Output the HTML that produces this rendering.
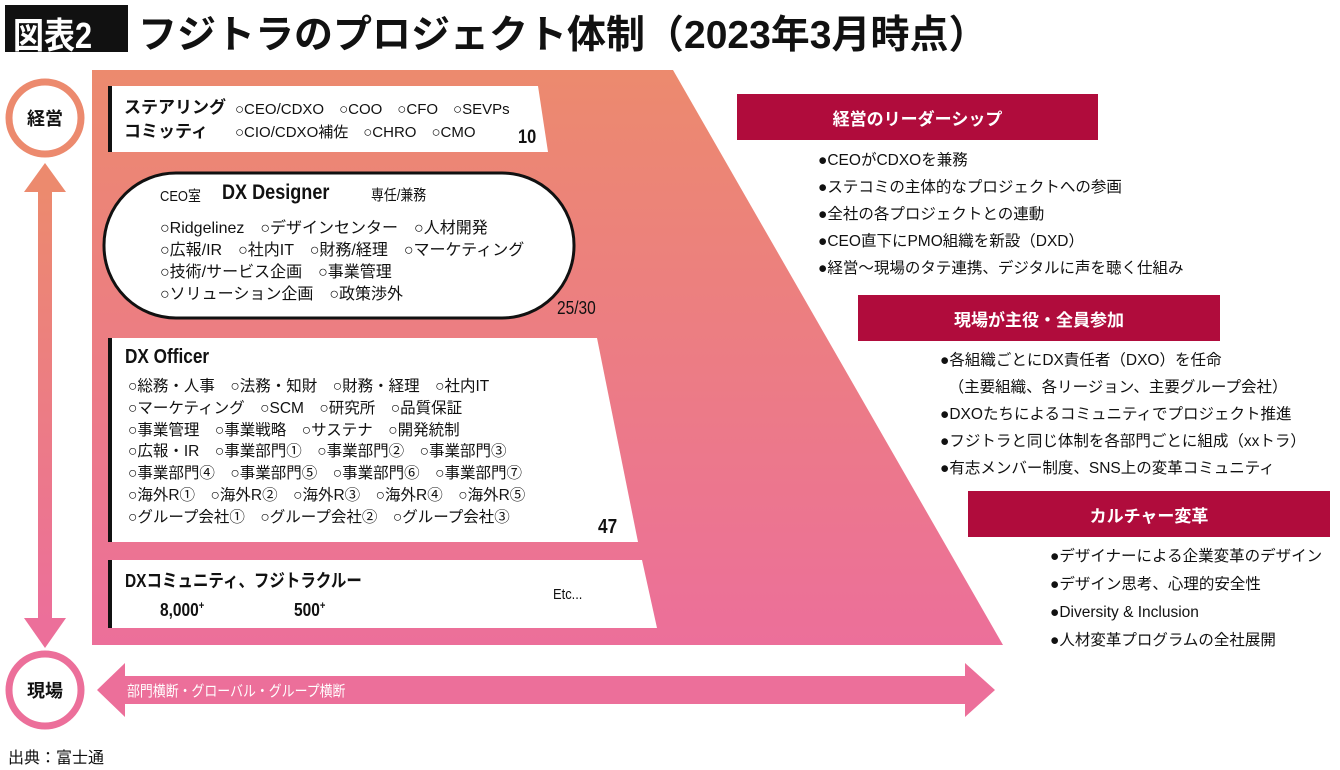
<!DOCTYPE html>
<html><head><meta charset="utf-8">
<style>
body{margin:0;width:1340px;height:770px;position:relative;background:#fff;overflow:hidden;font-family:"Liberation Sans","Noto Sans CJK JP",sans-serif;color:#111}
.a{position:absolute;white-space:nowrap;transform-origin:left top}
.n{transform:scaleX(.86)}
.hd{position:absolute;background:#b00c3c;color:#fff;font-size:17px;font-weight:bold;display:flex;align-items:center;justify-content:center}
.bl{font-size:15.5px;line-height:27px}
</style></head><body>
<svg width="1340" height="770" style="position:absolute;left:0;top:0">
<defs><linearGradient id="g" x1="0" y1="0" x2="0" y2="1"><stop offset="0" stop-color="#ec8a6e"/><stop offset="1" stop-color="#ec6f9a"/></linearGradient>
<linearGradient id="g2" x1="0" y1="0" x2="0" y2="1"><stop offset="0" stop-color="#ec8a6e"/><stop offset="1" stop-color="#ec6f9a"/></linearGradient></defs>
<polygon points="92,70 673,70 1003,645 92,645" fill="url(#g)"/>
<rect x="38" y="190" width="14" height="430" fill="url(#g2)"/>
<polygon points="24,192 45,163 66,192" fill="#ec8a6e"/>
<polygon points="24,618 45,648 66,618" fill="#ec6f9a"/>
<circle cx="45" cy="118" r="36" fill="#fff" stroke="#ec8a6e" stroke-width="7"/>
<circle cx="45" cy="690" r="36" fill="#fff" stroke="#ec6f9a" stroke-width="7"/>
<polygon points="97,690 125,663 125,676 965,676 965,663 995,690 965,717 965,704 125,704 125,717" fill="#ec6f9a"/>
<polygon points="108,86 538,86 548,152 108,152" fill="#fff"/>
<rect x="108" y="86" width="4" height="66" fill="#111"/>
<rect x="104" y="173" width="470" height="145" rx="72" fill="#fff" stroke="#111" stroke-width="3"/>
<polygon points="108,338 597,338 638,542 108,542" fill="#fff"/>
<rect x="108" y="338" width="4" height="204" fill="#111"/>
<polygon points="108,560 642,560 657,628 108,628" fill="#fff"/>
<rect x="108" y="560" width="4" height="68" fill="#111"/>
</svg>
<div class="a" style="left:5px;top:5px;width:123px;height:47px;background:#111"></div>
<div class="a n" style="left:13px;top:7px;font-size:36px;font-weight:bold;color:#fff">図表2</div>
<div class="a" style="left:138px;top:4px;font-size:39px;font-weight:bold">フジトラのプロジェクト体制（2023年3月時点）</div>
<div class="a" style="left:27px;top:105px;font-size:18px;font-weight:bold">経営</div>
<div class="a" style="left:27px;top:677px;font-size:18px;font-weight:bold">現場</div>
<div class="a n" style="left:127px;top:680px;font-size:15px;color:#fff">部門横断・グローバル・グループ横断</div>
<div class="a" style="left:8px;top:744px;font-size:16px">出典：富士通</div>

<div class="a" style="left:124px;top:96px;font-size:17px;font-weight:bold;line-height:24px">ステアリング<br>コミッティ</div>
<div class="a" style="left:235px;top:98px;font-size:15px;line-height:23px">○CEO/CDXO　○COO　○CFO　○SEVPs<br>○CIO/CDXO補佐　○CHRO　○CMO</div>
<div class="a n" style="left:518px;top:127px;font-size:19px;font-weight:bold">10</div>

<div class="a n" style="left:160px;top:185px;font-size:15px">CEO室</div>
<div class="a n" style="left:222px;top:181px;font-size:21px;font-weight:bold">DX Designer</div>
<div class="a n" style="left:371px;top:184px;font-size:15px">専任/兼務</div>
<div class="a" style="left:160px;top:218px;font-size:16px;line-height:22px">○Ridgelinez　○デザインセンター　○人材開発<br>○広報/IR　○社内IT　○財務/経理　○マーケティング<br>○技術/サービス企画　○事業管理<br>○ソリューション企画　○政策渉外</div>
<div class="a n" style="left:557px;top:298px;font-size:18px">25/30</div>

<div class="a n" style="left:125px;top:346px;font-size:20px;font-weight:bold">DX Officer</div>
<div class="a" style="left:128px;top:376px;font-size:15.5px;line-height:21.8px">○総務・人事　○法務・知財　○財務・経理　○社内IT<br>○マーケティング　○SCM　○研究所　○品質保証<br>○事業管理　○事業戦略　○サステナ　○開発統制<br>○広報・IR　○事業部門①　○事業部門②　○事業部門③<br>○事業部門④　○事業部門⑤　○事業部門⑥　○事業部門⑦<br>○海外R①　○海外R②　○海外R③　○海外R④　○海外R⑤<br>○グループ会社①　○グループ会社②　○グループ会社③</div>
<div class="a n" style="left:598px;top:516px;font-size:20px;font-weight:bold">47</div>

<div class="a n" style="left:125px;top:567px;font-size:18px;font-weight:bold">DXコミュニティ、フジトラクルー</div>
<div class="a n" style="left:160px;top:600px;font-size:18px;font-weight:bold">8,000<sup style="font-size:11px">+</sup></div>
<div class="a n" style="left:294px;top:600px;font-size:18px;font-weight:bold">500<sup style="font-size:11px">+</sup></div>
<div class="a n" style="left:553px;top:586px;font-size:15px">Etc...</div>

<div class="hd" style="left:737px;top:94px;width:361px;height:46px">経営のリーダーシップ</div>
<div class="a bl" style="left:818px;top:147px">●CEOがCDXOを兼務<br>●ステコミの主体的なプロジェクトへの参画<br>●全社の各プロジェクトとの連動<br>●CEO直下にPMO組織を新設（DXD）<br>●経営～現場のタテ連携、デジタルに声を聴く仕組み</div>
<div class="hd" style="left:858px;top:295px;width:362px;height:46px">現場が主役・全員参加</div>
<div class="a bl" style="left:940px;top:347px;line-height:27px">●各組織ごとにDX責任者（DXO）を任命<br><span style="line-height:20px;display:inline-block;margin-top:-8px">&nbsp;&nbsp;（主要組織、各リージョン、主要グループ会社）</span><br>●DXOたちによるコミュニティでプロジェクト推進<br>●フジトラと同じ体制を各部門ごとに組成（xxトラ）<br>●有志メンバー制度、SNS上の変革コミュニティ</div>
<div class="hd" style="left:968px;top:491px;width:362px;height:46px">カルチャー変革</div>
<div class="a bl" style="left:1050px;top:543px;line-height:28px">●デザイナーによる企業変革のデザイン<br>●デザイン思考、心理的安全性<br>●Diversity &amp; Inclusion<br>●人材変革プログラムの全社展開</div>
</body></html>
